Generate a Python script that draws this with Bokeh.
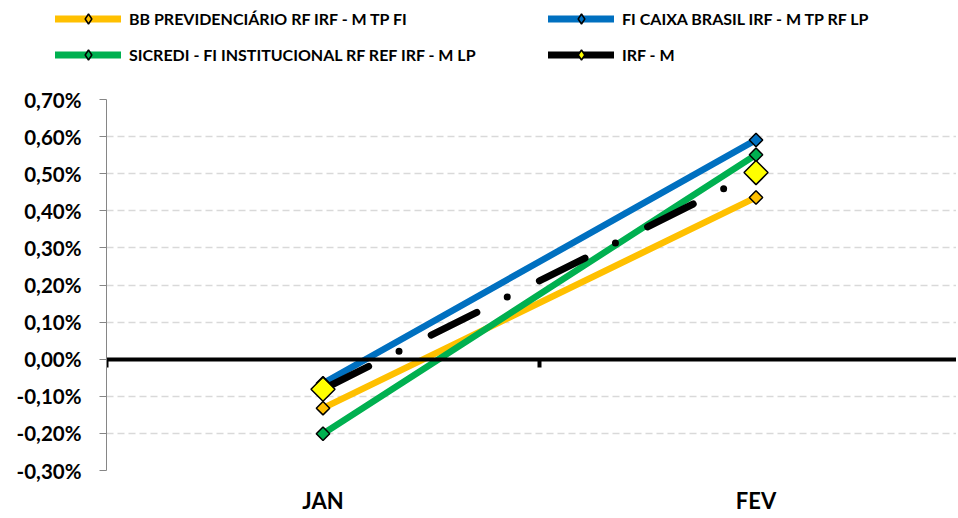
import math
from bokeh.plotting import figure
from bokeh.layouts import column, row
from bokeh.models import Range1d, FixedTicker, LinearAxis, Legend, LegendItem
from bokeh.embed import file_html
from bokeh.resources import INLINE

MONTHS = ["JAN", "FEV"]
BB = [-0.132, 0.436]
CAIXA = [-0.065, 0.591]
SICREDI = [-0.201, 0.551]
IRFM = [-0.081, 0.503]
SERIES_NAMES = [
    "BB PREVIDENCIÁRIO RF IRF - M TP FI",
    "FI CAIXA BRASIL IRF - M TP RF LP",
    "SICREDI - FI INSTITUCIONAL RF REF IRF - M LP",
    "IRF - M",
]
Y_TICKS = [-0.3, -0.2, -0.1, 0.0, 0.1, 0.2, 0.3, 0.4, 0.5, 0.6, 0.7]
Y_TICK_LABELS = ["-0,30%", "-0,20%", "-0,10%", "0,00%", "0,10%", "0,20%",
                 "0,30%", "0,40%", "0,50%", "0,60%", "0,70%"]

FONT = "Lato"
W = 956
xs = [i + 0.5 for i in range(len(MONTHS))]

series = [
    (BB, "#FFC000", "#FFC000", 9.5, None),
    (CAIXA, "#0070C0", "#0070C0", 9.5, None),
    (SICREDI, "#00B050", "#00B050", 9.5, None),
    (IRFM, "black", "#FFFF00", 17, "51 34 0 36"),
]

# ---------------- main chart ----------------
p = figure(width=W, height=446, x_range=Range1d(0, 1.963),
           y_range=Range1d(Y_TICKS[0], Y_TICKS[-1]),
           output_backend="svg", toolbar_location=None,
           min_border_left=106, min_border_right=0, min_border_top=29,
           min_border_bottom=45, outline_line_color=None,
           background_fill_color="white", border_fill_color="white")

p.yaxis.ticker = FixedTicker(ticks=Y_TICKS)
p.yaxis.major_label_overrides = {t: l for t, l in zip(Y_TICKS, Y_TICK_LABELS)}
p.yaxis.axis_line_color = "#868686"
p.yaxis.major_tick_line_color = "#868686"
p.yaxis.major_tick_out = 7
p.yaxis.major_tick_in = 0
p.yaxis.minor_tick_line_color = None
p.yaxis.major_label_standoff = 18
p.yaxis.major_label_text_font = FONT
p.yaxis.major_label_text_font_style = "bold"
p.yaxis.major_label_text_font_size = "20.5px"
p.yaxis.major_label_text_color = "black"

p.xaxis.ticker = FixedTicker(ticks=xs)
p.xaxis.major_label_overrides = {x: m for x, m in zip(xs, MONTHS)}
p.xaxis.axis_line_color = None
p.xaxis.major_tick_line_color = None
p.xaxis.minor_tick_line_color = None
p.xaxis.major_label_standoff = 10
p.xaxis.major_label_text_font = FONT
p.xaxis.major_label_text_font_style = "bold"
p.xaxis.major_label_text_font_size = "22px"
p.xaxis.major_label_text_color = "black"

p.xgrid.visible = False
p.ygrid.ticker = FixedTicker(ticks=Y_TICKS)
p.ygrid.grid_line_color = "#D9D9D9"
p.ygrid.grid_line_dash = "7 4"
p.ygrid.grid_line_width = 1.5

zero_axis = LinearAxis(fixed_location=0,
                       ticker=FixedTicker(ticks=list(range(len(MONTHS)))),
                       axis_line_color="black", axis_line_width=4,
                       major_tick_line_color="black", major_tick_line_width=4,
                       major_tick_in=8, major_tick_out=0,
                       minor_tick_line_color=None,
                       major_label_overrides={i: "" for i in range(len(MONTHS))},
                       major_label_text_color=None,
                       major_label_standoff=0)
p.add_layout(zero_axis, "above")

for vals, lc, mc, ms, dash in series:
    kw = dict(line_color=lc, line_width=6.5, line_cap="round", line_join="round")
    if dash:
        kw["line_dash"] = dash
        kw["line_width"] = 7
    p.line(xs, vals, **kw)
    p.scatter(xs, vals, marker="square", angle=math.pi / 4, size=ms,
              fill_color=mc, line_color="black", line_width=1.5)

# ---------------- legend strip ----------------
pl = figure(width=W, height=70, x_range=Range1d(10, 11), y_range=Range1d(10, 11),
            output_backend="svg", toolbar_location=None,
            x_axis_location=None, y_axis_location=None,
            min_border=0, min_border_left=0, min_border_right=0,
            min_border_top=0, min_border_bottom=0, outline_line_color=None,
            background_fill_color="white", border_fill_color="white")
pl.grid.visible = False

items = []
for name, (vals, lc, mc, ms, dash) in zip(SERIES_NAMES, series):
    lr = pl.line(xs, vals, line_color=lc, line_width=7, line_cap="round")
    sr = pl.scatter(xs, vals, marker="diamond", size=8,
                    fill_color=mc, line_color="black", line_width=1.5)
    items.append(LegendItem(label=name, renderers=[lr, sr]))

order = [items[0], items[2], items[1], items[3]]
legend = Legend(items=order, location=(55, 3.5), orientation="vertical",
                ncols=2, glyph_width=66, glyph_height=25, label_standoff=8,
                label_width=408, spacing=11, padding=0, margin=0,
                border_line_color=None, background_fill_alpha=0,
                label_text_font=FONT, label_text_font_style="bold",
                label_text_font_size="16px", label_text_color="black")
pl.add_layout(legend, "center")

layout = column(row(pl), p, spacing=0)
open("out.html", "w").write(file_html(layout, INLINE))
